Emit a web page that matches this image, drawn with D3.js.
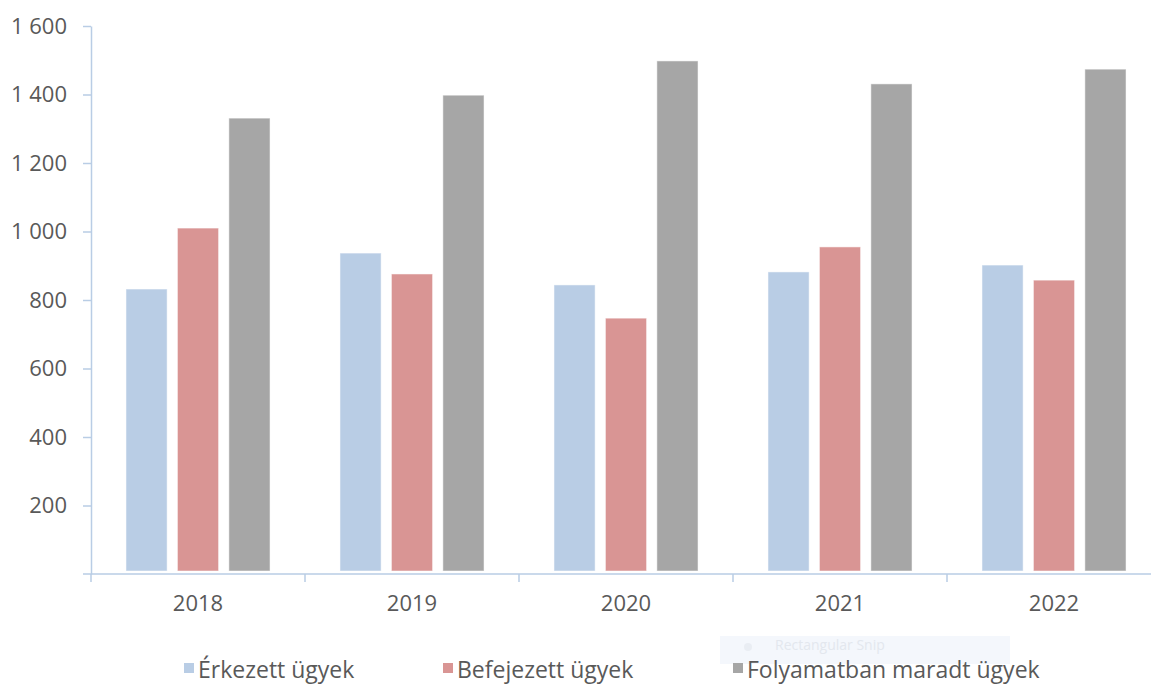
<!DOCTYPE html>
<html>
<head>
<meta charset="utf-8">
<script src="https://cdn.jsdelivr.net/npm/d3@7"></script>
<style>
  body { margin: 0; background: #fff; }
  svg { display: block; font-family: "Open Sans", sans-serif; }
</style>
</head>
<body>
<svg id="chart"></svg>
<script>
// data
const years = ["2018", "2019", "2020", "2021", "2022"];
const seriesNames = ["Érkezett ügyek", "Befejezett ügyek", "Folyamatban maradt ügyek"];
const erkezett = [832, 937, 844, 882, 902];
const befejezett = [1010, 876, 747, 955, 858];
const folyamatban = [1331, 1398, 1498, 1431, 1474];
const yTicks = [200, 400, 600, 800, 1000, 1200, 1400, 1600];

function colors(i) {
    return ["#b9cde5", "#d99594", "#a6a6a6"][i]
}

var width = 1151,
    height = 684;

var margin = ({
    top: 26,
    right: -10,
    bottom: 110,
    left: 91
})

const svg = d3.select("#chart")
    .attr("width", width)
    .attr("height", height);

const values = [erkezett, befejezett, folyamatban];
let rows = years.map((yr, i) => ({
    year: yr,
    vals: values.map((s, k) => ({ key: k, value: s[i] }))
}));

let x0 = d3.scaleBand()
    .domain(years)
    .range([margin.left, width - margin.right])
    .paddingInner(0)

let x1 = d3.scaleBand()
    .domain([0, 1, 2])
    .range([0, x0.bandwidth()])
    .paddingInner(0.2)
    .paddingOuter(0.68)

let y = d3.scaleLinear()
    .domain([0, 1600])
    .range([height - margin.bottom, margin.top])

const fmt = d3.formatLocale({ decimal: ",", thousands: " ", grouping: [3], currency: ["", ""] }).format(",d");

const axisColor = "#b9cde5";
const textColor = "#595959";

// faint leftover snip box behind the legend
const snip = svg.append("g").attr("transform", "translate(720,636)");
snip.append("rect").attr("width", 290).attr("height", 28).attr("fill", "#f4f7fc");
snip.append("circle").attr("cx", 28).attr("cy", 11).attr("r", 4).attr("fill", "#e9edf3");
snip.append("text").attr("x", 55).attr("y", 14).attr("font-size", 14)
    .attr("fill", "#e3e7ee").text("Rectangular Snip");

// bars
svg.append("g")
    .selectAll("g")
    .data(rows)
    .join("g")
    .attr("transform", d => `translate(${x0(d.year)},0)`)
    .selectAll("rect")
    .data(d => d.vals)
    .join("rect")
    .attr("x", d => x1(d.key))
    .attr("width", x1.bandwidth())
    .attr("y", d => y(d.value))
    .attr("height", d => y(0) - y(d.value) - 3)
    .attr("fill", d => colors(d.key))
    .attr("stroke", "#fff")
    .attr("stroke-opacity", 0.5)
    .attr("stroke-width", 1);

// y axis
let yAxis = g => g
    .attr("transform", `translate(${margin.left},0)`)
    .call(d3.axisLeft(y).tickValues(yTicks).tickFormat(fmt).tickSize(8).tickPadding(16).tickSizeOuter(0))
    .call(g => g.select(".domain").attr("stroke", axisColor).attr("stroke-width", 1.5))
    .call(g => g.selectAll(".tick line").attr("stroke", axisColor).attr("stroke-width", 1.5))
    .call(g => g.selectAll(".tick text").attr("fill", textColor).attr("font-size", 22)
        .attr("font-family", "Open Sans, sans-serif"))

svg.append("g").call(yAxis);

// x axis
let xAxis = g => g
    .attr("transform", `translate(0,${y(0)})`)
    .call(d3.axisBottom(x0).tickSize(0).tickPadding(21).tickSizeOuter(0))
    .call(g => g.select(".domain").remove())
    .call(g => g.selectAll(".tick text").attr("fill", textColor).attr("font-size", 22)
        .attr("font-family", "Open Sans, sans-serif"))

const xg = svg.append("g").call(xAxis);
xg.append("line")
    .attr("x1", margin.left - 8)
    .attr("x2", width)
    .attr("stroke", axisColor)
    .attr("stroke-width", 1.5);
xg.selectAll(".sep")
    .data(years)
    .join("line")
    .attr("class", "sep")
    .attr("x1", d => x0(d))
    .attr("x2", d => x0(d))
    .attr("y1", 0)
    .attr("y2", 8)
    .attr("stroke", axisColor)
    .attr("stroke-width", 1.5);

// legend
const legendX = [184, 443, 733];
const legend = svg.append("g")
    .selectAll("g")
    .data(seriesNames)
    .join("g")
    .attr("transform", (d, i) => `translate(${legendX[i]},671)`);

legend.append("rect")
    .attr("y", -8)
    .attr("width", 10)
    .attr("height", 10)
    .attr("fill", (d, i) => colors(i));

legend.append("text")
    .attr("x", 14)
    .attr("y", 7)
    .attr("font-size", 23)
    .attr("fill", textColor)
    .text(d => d);
</script>
</body>
</html>
